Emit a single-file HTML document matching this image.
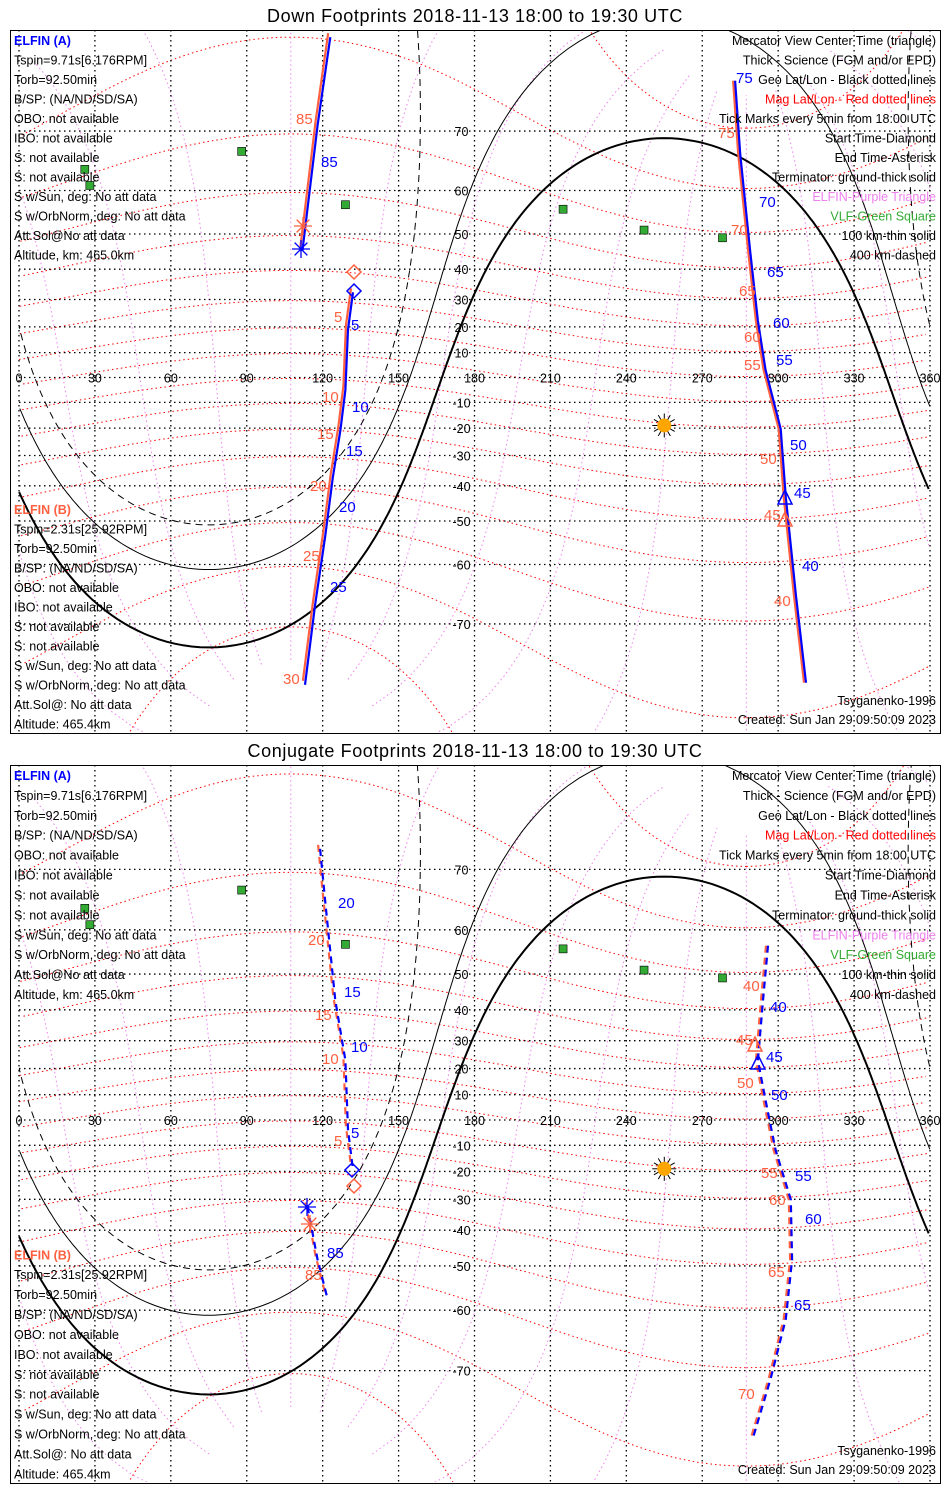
<!DOCTYPE html>
<html><head><meta charset="utf-8">
<style>
html,body{margin:0;background:#fff;overflow:hidden;width:950px;height:1500px;}
svg{display:block;font-family:"Liberation Sans",sans-serif;}
</style></head>
<body>
<svg id="chart" width="950" height="1500" viewBox="0 0 950 1500" xmlns="http://www.w3.org/2000/svg"></svg>
<script>
// ---- data ----
const lonTicks=[0,30,60,90,120,150,180,210,240,270,300,330,360];
const latTicks=[70,60,50,40,30,20,10,0,-10,-20,-30,-40,-50,-60,-70];
const latLabels=['70','60','50','40','30','20','10','0','-10','-20','-30','-40','-50','-60','-70'];
const subSolarLon=255, subSolarLat=-19;
const nightCenterLat=19;
const termRadii=[92,80,70]; // ground, 100km, 400km
const vlfLon=[88,26,28,129,215,247,278];
const vlfLat=[67,64,61,57,56,51,49];
// Down footprints
const downA1Lon=[132,130,129,127,124,121,117,113];
const downA1Lat=[32.5,19,-5,-20.8,-37.4,-53.8,-67.2,-76.9];
const downA2Lon=[123,118,112];
const downA2Lat=[79.6,70.8,45.4];
const downB_Lon=[283,285,289,292,295,301,303,307,311];
const downB_Lat=[75.9,66.6,45,22.3,3.2,-20.3,-43.4,-65.6,-76.7];
// Conjugate footprints
const conjA1Lon=[119,121,125,129,130,132];
const conjA1Lat=[72.6,65.2,42.8,23,-3.9,-19.4];
const conjA2Lon=[114,118,122];
const conjA2Lat=[-32.4,-48.4,-57.8];
const conjB_Lon=[296,294,292,295,299,305,305.5,303,297,290];
const conjB_Lat=[56.7,42.8,23,7.9,-11.8,-30.1,-48.4,-61.7,-71.1,-77.4];

const NS='http://www.w3.org/2000/svg';
const svg=document.getElementById('chart');
function el(tag,attrs,parent){const e=document.createElementNS(NS,tag);for(const k in attrs)e.setAttribute(k,attrs[k]);(parent||svg).appendChild(e);return e;}
const xS=lon=>19+lon*911/360;
const D=Math.PI/180;

const panels=[
 {top:30,bottom:733,y0:377.5,k:142,title:'Down Footprints 2018-11-13 18:00 to 19:30 UTC',titleY:22,name:'down'},
 {top:765,bottom:1483,y0:1120,k:144.4,title:'Conjugate Footprints 2018-11-13 18:00 to 19:30 UTC',titleY:757,name:'conjugate'}
];

function polyPath(pts){
 let d='',prev=null;
 for(const p of pts){
  if(!prev||Math.abs(p[0]-prev[0])>180||!isFinite(p[2])) d+='M'; else d+='L';
  d+=xS(p[0]).toFixed(1)+','+p[2].toFixed(1)+' ';
  prev=p;
 }
 return d;
}
function smallCircle(clat,clon,r){
 const out=[];
 for(let b=0;b<=360;b+=1){
  const c=clat*D,rr=r*D,bb=b*D;
  const lat2=Math.asin(Math.sin(c)*Math.cos(rr)+Math.cos(c)*Math.sin(rr)*Math.cos(bb));
  let lon2=clon*D+Math.atan2(Math.sin(bb)*Math.sin(rr)*Math.cos(c),Math.cos(rr)-Math.sin(c)*Math.sin(lat2));
  let lon=((lon2/D)%360+360)%360;
  out.push([lon,lat2/D]);
 }
 return out;
}
function mag2geo(mlat,mlon){
 const th=9.6*D,l0=-72.6*D;
 const x=Math.cos(mlat*D)*Math.cos(mlon*D),y=Math.cos(mlat*D)*Math.sin(mlon*D),z=Math.sin(mlat*D);
 const x1=x*Math.cos(th)+z*Math.sin(th),z1=-x*Math.sin(th)+z*Math.cos(th);
 const x2=x1*Math.cos(l0)-y*Math.sin(l0),y2=x1*Math.sin(l0)+y*Math.cos(l0);
 let lon=Math.atan2(y2,x2)/D;lon=(lon+360)%360;
 return [lon,Math.asin(Math.max(-1,Math.min(1,z1)))/D];
}

const leftA=[['ELFIN (A)','#0000ff'],['Tspin=9.71s[6.176RPM]'],['Torb=92.50min'],['B/SP: (NA/ND/SD/SA)'],['OBO: not available'],['IBO: not available'],['S: not available'],['S: not available'],['S w/Sun, deg: No att data'],['S w/OrbNorm, deg: No att data'],['Att.Sol@No att data'],['Altitude, km: 465.0km']];
const leftB=[['ELFIN (B)','#ff6040'],['Tspin=2.31s[25.92RPM]'],['Torb=92.50min'],['B/SP: (NA/ND/SD/SA)'],['OBO: not available'],['IBO: not available'],['S: not available'],['S: not available'],['S w/Sun, deg: No att data'],['S w/OrbNorm, deg: No att data'],['Att.Sol@: No att data'],['Altitude: 465.4km']];
const rightT=[['Mercator View Center Time (triangle)'],['Thick - Science (FGM and/or EPD)'],['Geo Lat/Lon - Black dotted lines'],['Mag Lat/Lon - Red dotted lines','#ff0000'],['Tick Marks every 5min from 18:00 UTC'],['Start Time-Diamond'],['End Time-Asterisk'],['Terminator: ground-thick solid'],['ELFIN-Purple Triangle','#ee82ee'],['VLF-Green Square','#33aa33'],['100 km-thin solid'],['400 km-dashed']];

const labelsDown={blue:[['85',327,162],['5',357,325],['10',358,407],['15',352,451],['20',345,507],['25',336,587],['75',742,78],['70',765,202],['65',773,272],['60',779,323],['55',782,360],['50',796,445],['45',800,493],['40',808,566]],
 red:[['85',302,119],['5',340,317],['10',328,397],['15',323,434],['20',316,486],['25',309,556],['30',289,679],['75',724,133],['70',737,230],['65',745,291],['60',750,337],['55',750,365],['50',766,459],['45',770,515],['40',780,601]]};
const labelsConj={blue:[['20',344,903],['15',350,992],['10',357,1047],['5',357,1133],['85',333,1253],['65',800,1305],['60',811,1219],['55',801,1176],['50',777,1095],['45',772,1057],['40',776,1007]],
 red:[['20',314,940],['15',321,1015],['10',328,1059],['5',340,1141],['85',311,1275],['70',744,1394],['65',774,1272],['60',775,1200],['55',767,1173],['50',743,1083],['45',742,1040],['40',749,986]]};

panels.forEach((p,pi)=>{
 const yS=lat=>p.y0-p.k*Math.log(Math.tan(Math.PI/4+lat*D/2));
 const g=el('g',{});
 
 
 const t=el('text',{x:475,y:p.titleY,'text-anchor':'middle','font-size':'18','fill':'#000','letter-spacing':'0.6'},g);
 t.textContent=p.title;
 
 
 const cp=el('clipPath',{id:'clip'+pi},g);
 el('rect',{x:11,y:p.top+1,width:929,height:p.bottom-p.top-2},cp);
 const m=el('g',{'clip-path':'url(#clip'+pi+')'},g);
 for(let ml=-80;ml<=80;ml+=10){
  const pts=[];for(let mo=0;mo<=360;mo+=2){const q=mag2geo(ml,mo);pts.push([q[0],q[1],yS(q[1])]);}
  const e=el('path',{d:polyPath(pts),fill:'none',stroke:'#ff0000','stroke-width':1,'stroke-dasharray':'1.5,3'},m);
  
  
 }
 for(let mo=0;mo<360;mo+=30){
  const pts=[];for(let ml=-84;ml<=84;ml+=2){const q=mag2geo(ml,mo);pts.push([q[0],q[1],yS(q[1])]);}
  const e=el('path',{d:polyPath(pts),fill:'none',stroke:'#ee82ee','stroke-width':1,'stroke-dasharray':'1.5,3'},m);
  
  
 }
 latTicks.forEach((lat,i)=>{
  const e=el('line',{x1:xS(0),x2:xS(360),y1:yS(lat),y2:yS(lat),stroke:'#000','stroke-width':1.3,'stroke-dasharray':'1.5,3.5'},m);
  
  
  if(lat!==0){const tx=el('text',{x:xS(180)-13,y:yS(lat)+5,'font-size':'12.5','text-anchor':'middle'},m);tx.textContent=latLabels[i];
  
  }
 });
 lonTicks.forEach(lon=>{
  const e=el('line',{x1:xS(lon),x2:xS(lon),y1:p.top,y2:p.bottom,stroke:'#000','stroke-width':1.3,'stroke-dasharray':'1.5,3.5'},m);
  
  
  const tx=el('text',{x:xS(lon),y:yS(0)+5,'font-size':'12.5','text-anchor':'middle'},m);tx.textContent=String(lon);
  
  
 });
 termRadii.forEach((r,i)=>{
  const pts=smallCircle(nightCenterLat,(subSolarLon+180)%360,r).map(q=>[q[0],q[1],yS(Math.max(-88,Math.min(88,q[1])))]);
  const e=el('path',{d:polyPath(pts),fill:'none',stroke:'#000','stroke-width':i===0?2:1,'stroke-dasharray':i===2?'7,5':'none'},m);
  
  
 });
 vlfLon.forEach((lon,i)=>{
  const e=el('rect',{x:xS(lon)-4,y:yS(vlfLat[i])-4,width:8,height:8,fill:'#33aa33',stroke:'#000','stroke-width':0.6},m);
  
  
 });
 const sx=xS(subSolarLon),sy=yS(subSolarLat);
 const sg=el('g',{},m);
 
 
 for(let a=0;a<360;a+=30){el('line',{x1:sx,y1:sy,x2:sx+12*Math.cos(a*D),y2:sy+12*Math.sin(a*D),stroke:'#000','stroke-width':1},sg);}
 el('circle',{cx:sx,cy:sy,r:7,fill:'#ffa500'},sg);
 const dash=pi===1?'7,5':'none';
 const tracks=pi===0?[[downA1Lon,downA1Lat],[downA2Lon,downA2Lat],[downB_Lon,downB_Lat]]:[[conjA1Lon,conjA1Lat],[conjA2Lon,conjA2Lat],[conjB_Lon,conjB_Lat]];
 tracks.forEach((tr,ti)=>{
  const ptsR=tr[0].map((lon,i)=>[lon-0.8,tr[1][i],yS(tr[1][i])+(ti===2?0:-4)]);
  const ptsB=tr[0].map((lon,i)=>[lon,tr[1][i],yS(tr[1][i])]);
  const r=el('path',{d:polyPath(ptsR),fill:'none',stroke:'#ff6040','stroke-width':2.2,'stroke-dasharray':dash},m);
  
  
  const b=el('path',{d:polyPath(ptsB),fill:'none',stroke:'#0000ff','stroke-width':2.2,'stroke-dasharray':dash},m);
  
  
 });
 const mk=pi===0?[['d','#0000ff',354,291],['d','#ff6040',354,272],['s','#0000ff',301,249],['s','#ff6040',303,226],['t','#0000ff',785,498],['t','#ff6040',785,520]]
               :[['d','#0000ff',352,1170],['d','#ff6040',354,1186],['s','#0000ff',307,1207],['s','#ff6040',310,1224],['t','#0000ff',758,1063],['t','#ff6040',755,1045]];
 mk.forEach(q=>{
  const [ty,c,x,y]=q;let e;
  if(ty==='d') e=el('path',{d:`M${x},${y-7}L${x+7},${y}L${x},${y+7}L${x-7},${y}Z`,fill:'none',stroke:c,'stroke-width':1.5},m);
  else if(ty==='t') e=el('path',{d:`M${x},${y-8}L${x+7},${y+6}L${x-7},${y+6}Z`,fill:'none',stroke:c,'stroke-width':1.5},m);
  else {let d='';for(let a=0;a<180;a+=45){d+=`M${x+9*Math.cos(a*D)},${y+9*Math.sin(a*D)}L${x-9*Math.cos(a*D)},${y-9*Math.sin(a*D)}`;}e=el('path',{d:d,stroke:c,'stroke-width':1.3},m);}
  
  
 });
 const labs=pi===0?labelsDown:labelsConj;
 ['blue','red'].forEach(col=>{labs[col].forEach(l=>{
  const e=el('text',{x:l[1]-6,y:l[2]+5,'font-size':'15','fill':col==='blue'?'#0000ff':'#ff6040'},m);e.textContent=l[0];
  
  
 });});
 const fr=el('rect',{x:10.5,y:p.top+0.5,width:930,height:p.bottom-p.top,fill:'none',stroke:'#000','stroke-width':1},g);
 
 
 const sc=(p.bottom-p.top)/703;
 leftA.forEach((l,i)=>{const e=el('text',{x:14,y:p.top+15+i*19.5*sc,'font-size':'12.5',fill:l[1]||'#000','font-weight':i===0?'bold':'normal'},g);e.textContent=l[0];
  
  });
 leftB.forEach((l,i)=>{const e=el('text',{x:14,y:p.top+484*sc+i*19.5*sc,'font-size':'12.5',fill:l[1]||'#000','font-weight':i===0?'bold':'normal'},g);e.textContent=l[0];
  
  });
 rightT.forEach((l,i)=>{const e=el('text',{x:936,y:p.top+15+i*19.5*sc,'font-size':'12.5','text-anchor':'end',fill:l[1]||'#000'},g);e.textContent=l[0];
  
  });
 const f1=el('text',{x:936,y:p.bottom-28,'font-size':'12.5','text-anchor':'end'},g);f1.textContent='Tsyganenko-1996';
 
 
 const f2=el('text',{x:936,y:p.bottom-9,'font-size':'12.5','text-anchor':'end'},g);f2.textContent='Created: Sun Jan 29 09:50:09 2023';
 
 
});
</script>
</body></html>
